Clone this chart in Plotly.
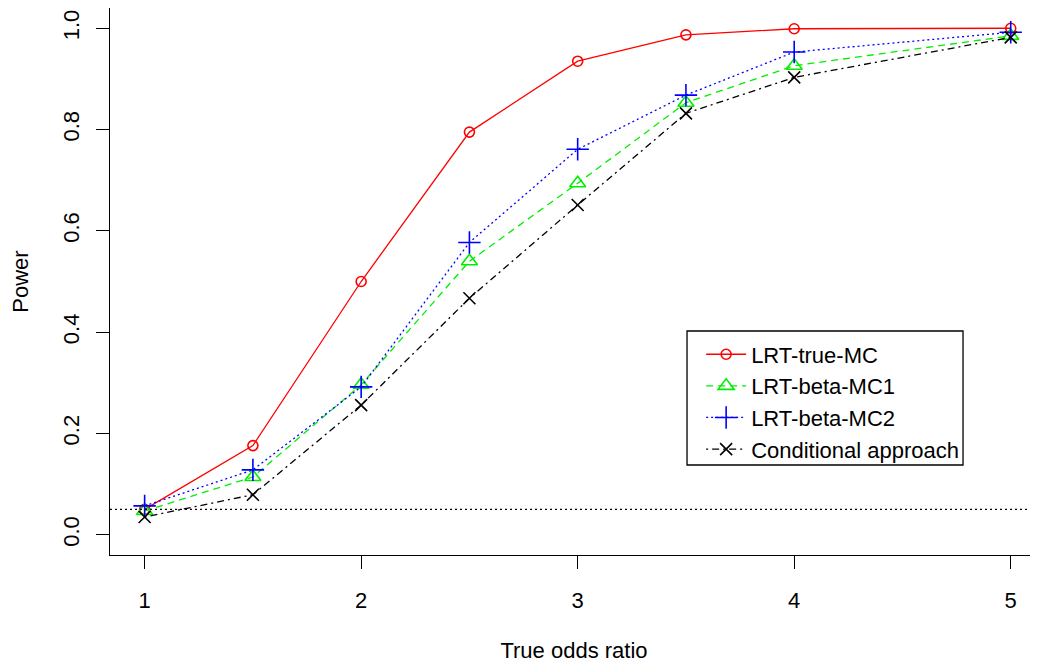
import plotly.graph_objects as go

odds_ratio = [1, 1.5, 2, 2.5, 3, 3.5, 4, 5]
lrt_true_mc = [0.050, 0.176, 0.500, 0.795, 0.935, 0.987, 0.999, 1.000]
lrt_beta_mc1 = [0.047, 0.114, 0.296, 0.540, 0.694, 0.853, 0.926, 0.985]
lrt_beta_mc2 = [0.057, 0.128, 0.292, 0.577, 0.761, 0.868, 0.953, 0.992]
conditional = [0.035, 0.079, 0.256, 0.467, 0.651, 0.832, 0.903, 0.982]
alpha_level = 0.05

series_names = ["LRT-true-MC", "LRT-beta-MC1", "LRT-beta-MC2", "Conditional approach"]
series_values = [lrt_true_mc, lrt_beta_mc1, lrt_beta_mc2, conditional]
colors = ["#FF0000", "#00EE00", "#0000FF", "#000000"]
dashes = ["solid", "7px,5px", "2px,3px", "2px,4px,7px,4px"]
symbols = ["circle-open", "triangle-up-open", "cross-thin-open", "x-thin-open"]
sizes = [10, 14, 16, 12]

FONT = "Liberation Sans, Arial, sans-serif"

fig = go.Figure()
for name, vals, c, d, s, sz in zip(series_names, series_values, colors, dashes, symbols, sizes):
    fig.add_trace(go.Scatter(
        x=odds_ratio, y=vals, name=name, mode="lines+markers",
        line=dict(color=c, width=1.3, dash=d),
        marker=dict(symbol=s, size=sz, color=c, line=dict(color=c, width=1.6)),
    ))

fig.add_hline(y=alpha_level, line=dict(color="black", width=1.3, dash="2px,3px"))

# legend box
fig.add_shape(type="rect", xref="paper", yref="paper",
              x0=0.6218, x1=0.9192, y0=0.1645, y1=0.4095,
              line=dict(color="black", width=1.3), fillcolor="rgba(0,0,0,0)")

fig.update_layout(
    width=1030, height=657,
    margin=dict(l=102, r=0, t=0, b=110),
    paper_bgcolor="white", plot_bgcolor="white",
    font=dict(family=FONT, size=22, color="black"),
    showlegend=True,
    legend=dict(x=0.637, y=0.405, xanchor="left", yanchor="top",
                bgcolor="rgba(0,0,0,0)", borderwidth=0,
                font=dict(family=FONT, size=22), tracegroupgap=0,
                itemwidth=40),
    xaxis=dict(range=[0.84, 5.126], tickvals=[1, 2, 3, 4, 5], ticktext=["1", "2", "3", "4", "5"],
               showgrid=False, zeroline=False, showline=True, mirror=True,
               linecolor="black", linewidth=1.3, ticks="outside", ticklen=13,
               tickwidth=1.3, tickcolor="black", ticklabelstandoff=12,
               title=dict(text="True odds ratio", standoff=31, font=dict(size=22))),
    yaxis=dict(range=[-0.04, 1.04], tickvals=[0, 0.2, 0.4, 0.6, 0.8, 1.0],
               ticktext=["0.0", "0.2", "0.4", "0.6", "0.8", "1.0"], tickangle=-90,
               showgrid=False, zeroline=False, showline=True, mirror=False,
               linecolor="black", linewidth=1.3, ticks="outside", ticklen=13,
               tickwidth=1.3, tickcolor="black", ticklabelstandoff=8,
               title=dict(text="Power", standoff=27, font=dict(size=22))),
)

fig.write_html("out.html")
